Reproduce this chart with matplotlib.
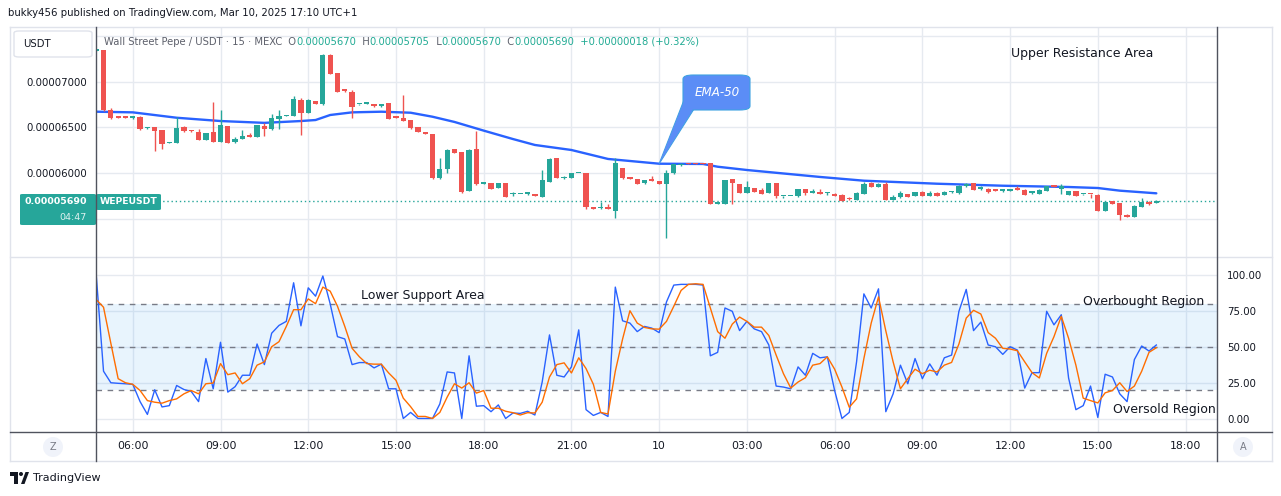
import numpy as np
import matplotlib.pyplot as plt
from matplotlib.patches import FancyBboxPatch, Polygon, Circle, Ellipse
from matplotlib.lines import Line2D

# 15 minute candles, prices in units of 1e-8 USDT, first candle is 04:45 on Mar 9
opens = [7340, 7347, 6691, 6625, 6611, 6606, 6617, 6490, 6501, 6472, 6328, 6333, 6508, 6463, 6450, 6362,
         6450, 6344, 6516, 6337, 6377, 6406, 6398, 6516, 6479, 6595, 6625, 6628, 6800, 6661, 6789, 6753,
         7292, 7095, 6906, 6891, 6752, 6758, 6756, 6731, 6764, 6608, 6600, 6581, 6501, 6440, 6425, 5943,
         6042, 6261, 6231, 5804, 6261, 5886, 5892, 5841, 5892, 5770, 5770, 5772, 5772, 5742, 5906, 6165,
         5943, 5950, 6000, 6001, 5626, 5615, 5633, 5589, 6053, 5958, 5932, 5889, 5936, 5914, 5884, 5998,
         6085, 6107, 6107, 6105, 6107, 5665, 5665, 5932, 5881, 5786, 5837, 5819, 5786, 5892, 5748, 5748,
         5746, 5823, 5783, 5794, 5778, 5772, 5761, 5716, 5709, 5775, 5892, 5852, 5881, 5709, 5739, 5772,
         5750, 5794, 5753, 5779, 5761, 5788, 5783, 5856, 5889, 5830, 5830, 5808, 5806, 5806, 5819, 5819,
         5784, 5775, 5808, 5852, 5830, 5761, 5801, 5767, 5769, 5761, 5586, 5695, 5673, 5539, 5523, 5633,
         5687, 5670]
highs = [7352, 7347, 6709, 6630, 6615, 6625, 6625, 6505, 6505, 6472, 6336, 6614, 6516, 6475, 6486, 6440,
         6778, 6690, 6520, 6398, 6475, 6439, 6525, 6548, 6647, 6690, 6635, 6844, 6818, 6810, 6792, 7300,
         7300, 7100, 6920, 6909, 6760, 6766, 6760, 6760, 6766, 6610, 6855, 6585, 6505, 6447, 6430, 6169,
         6260, 6265, 6235, 6261, 6461, 5895, 5895, 5895, 5895, 5790, 5775, 5795, 5775, 6034, 6165, 6168,
         5972, 6005, 6005, 6003, 5628, 5684, 5662, 6165, 6058, 5962, 5936, 5925, 5972, 5916, 6034, 6105,
         6108, 6110, 6110, 6108, 6110, 5672, 5930, 5936, 5885, 5914, 5840, 5834, 5892, 5895, 5753, 5755,
         5826, 5826, 5823, 5830, 5794, 5783, 5772, 5739, 5790, 5903, 5903, 5892, 5900, 5757, 5801, 5775,
         5792, 5801, 5801, 5790, 5801, 5804, 5873, 5892, 5892, 5856, 5832, 5823, 5823, 5812, 5856, 5822,
         5808, 5823, 5860, 5855, 5881, 5805, 5805, 5772, 5772, 5768, 5692, 5698, 5676, 5550, 5648, 5724,
         5695, 5705]
lows = [7336, 6680, 6592, 6600, 6603, 6595, 6470, 6485, 6245, 6264, 6325, 6330, 6455, 6455, 6362, 6358,
        6340, 6340, 6330, 6335, 6374, 6398, 6395, 6403, 6475, 6486, 6620, 6625, 6417, 6655, 6755, 6750,
        7080, 6885, 6890, 6606, 6748, 6755, 6728, 6728, 6590, 6603, 6570, 6479, 6445, 6428, 5940, 5940,
        6005, 6220, 5785, 5800, 5875, 5884, 5828, 5838, 5740, 5753, 5768, 5764, 5750, 5740, 5900, 5948,
        5940, 5948, 5998, 5611, 5608, 5611, 5608, 5512, 5932, 5932, 5880, 5886, 5915, 5882, 5293, 5995,
        6082, 6097, 6097, 6097, 5660, 5663, 5660, 5665, 5779, 5783, 5795, 5772, 5783, 5724, 5724, 5745,
        5743, 5757, 5780, 5772, 5764, 5750, 5695, 5710, 5705, 5772, 5850, 5850, 5705, 5705, 5731, 5740,
        5748, 5750, 5750, 5750, 5758, 5779, 5775, 5853, 5815, 5815, 5783, 5804, 5794, 5804, 5815, 5758,
        5768, 5772, 5805, 5848, 5768, 5758, 5748, 5765, 5728, 5583, 5583, 5662, 5487, 5517, 5520, 5630,
        5655, 5670]
closes = [7347, 6691, 6606, 6606, 6606, 6611, 6483, 6496, 6464, 6319, 6333, 6494, 6458, 6458, 6362, 6436,
          6344, 6523, 6333, 6373, 6406, 6400, 6523, 6486, 6600, 6625, 6630, 6808, 6654, 6800, 6759, 7292,
          7088, 6891, 6900, 6727, 6756, 6762, 6731, 6756, 6595, 6606, 6574, 6494, 6447, 6431, 5943, 6045,
          6253, 6223, 5790, 6253, 5878, 5889, 5830, 5892, 5742, 5772, 5772, 5776, 5753, 5925, 6151, 5950,
          5946, 6001, 6003, 5626, 5611, 5618, 5611, 6107, 5950, 5936, 5884, 5921, 5917, 5884, 5998, 6100,
          6103, 6100, 6100, 6100, 5665, 5670, 5925, 5895, 5786, 5848, 5797, 5775, 5889, 5753, 5750, 5751,
          5823, 5783, 5786, 5775, 5780, 5753, 5698, 5714, 5779, 5881, 5852, 5884, 5709, 5739, 5779, 5742,
          5790, 5753, 5779, 5753, 5794, 5790, 5859, 5881, 5819, 5832, 5794, 5806, 5808, 5808, 5817, 5761,
          5787, 5815, 5856, 5850, 5856, 5801, 5750, 5769, 5767, 5586, 5684, 5665, 5542, 5520, 5637, 5684,
          5659, 5690]
change_text = '+0.00000018 (+0.32%)'
countdown = '04:47'

# EMA-50 read at some candles (index counted from the 05:00 candle)
ema_idx = [-1, 4, 10, 16, 22, 27, 29, 31, 34, 38, 42, 45, 48, 52, 56, 59, 64, 69, 76, 82, 84, 88, 98,
           104, 114, 123, 132, 136, 139, 144]
ema_vals = [6672, 6665, 6606, 6570, 6550, 6570, 6581, 6636, 6665, 6672, 6661, 6617, 6560, 6465, 6373,
            6308, 6253, 6155, 6103, 6100, 6070, 6034, 5958, 5917, 5884, 5862, 5848, 5837, 5808, 5779]

# stochastic %K and %D, one value per candle
stoch_k = [100, 33.2, 25.2, 24.8, 24.5, 24.1, 12.1, 3.2, 20.3, 8.4, 9.3, 23.3, 20.5, 19.1, 12.1, 42.0,
           21.0, 53.3, 18.7, 22.5, 30.4, 30.4, 52.1, 37.8, 59.6, 65.0, 67.8, 94.6, 64.7, 91.1, 85.3, 99.3,
           80.0, 57.2, 55.6, 37.8, 39.2, 39.2, 35.5, 38.1, 21.0, 21.0, 0.4, 4.6, 0.4, 0.4, 0.4, 10.5,
           32.7, 32.0, 0.4, 43.9, 8.9, 9.3, 5.1, 9.8, 0.4, 4.2, 3.9, 5.4, 2.8, 25.7, 58.4, 30.4,
           29.2, 36.2, 61.9, 6.5, 2.5, 4.6, 1.8, 91.6, 68.2, 66.6, 60.7,
           64.3, 63.1, 60.0, 81.3, 93.0, 93.5, 93.5, 93.5, 93.0, 43.9, 46.3, 77.1, 74.8, 61.4, 67.8, 62.6,
           60.7, 51.4, 22.9, 22.2, 21.0, 36.2, 30.4, 45.6, 42.5, 43.2, 19.8, 0.4, 4.6, 39.7, 86.9, 77.1,
           90.4, 5.1, 17.5, 37.4, 24.5, 42.0, 28.0, 38.3, 30.4, 42.5, 44.4, 74.8, 90.0, 61.4, 67.3, 51.4,
           50.2, 44.9, 50.2, 47.9, 21.5, 32.2, 32.2, 74.8, 65.4, 72.4, 28.5, 6.5, 9.3, 22.9, 1.1, 31.1,
           29.2, 17.5, 12.1, 41.3, 50.7, 47.2, 51.4]
stoch_d = [83.0, 77.6, 52.6, 28.0, 25.2, 24.1, 19.8, 12.8, 11.7, 11.0, 12.8, 14.0, 17.5, 19.8, 17.5, 24.5,
           25.0, 38.5, 30.8, 32.0, 24.5, 28.0, 37.4, 39.7, 50.2, 53.7, 64.3, 75.9, 75.9, 83.4, 80.1, 91.6,
           88.8, 78.3, 64.3, 49.1, 43.2, 38.5, 38.1, 38.1, 32.0, 26.9, 14.5, 8.6, 1.8, 1.8, 0.4, 4.6,
           15.2, 24.5, 21.5, 25.2, 18.0, 19.8, 7.5, 7.5, 5.4, 4.4, 2.8, 4.4, 4.2, 11.7, 29.2, 37.8,
           39.0, 32.0, 42.5, 35.0, 24.1, 4.6, 3.5, 33.2, 55.6, 75.2, 66.6,
           63.6, 62.6, 62.4, 67.8, 78.3, 89.3, 93.5, 93.9, 93.5, 77.1, 60.7, 56.1, 65.9, 70.8, 67.8, 63.8,
           63.8, 58.0, 44.4, 31.5, 21.5, 25.7, 28.7, 37.4, 38.5, 43.2, 34.6, 22.2, 8.2, 14.0, 42.0, 66.6,
           84.8, 61.2, 39.7, 21.0, 28.0, 34.6, 31.5, 33.9, 32.7, 37.4, 39.3, 52.1, 70.1, 75.5, 72.9, 60.0,
           56.1, 49.1, 48.6, 47.4, 39.7, 32.2, 28.5, 45.6, 57.2, 71.3, 56.1, 37.4, 14.5, 12.8, 11.2, 18.2,
           19.8, 25.2, 19.1, 22.9, 33.2, 46.3, 49.5]

tick_hours = [6, 9, 12, 15, 18, 21, 24, 27, 30, 33, 36, 39, 42]
tick_labels = ['06:00', '09:00', '12:00', '15:00', '18:00', '21:00', '10',
               '03:00', '06:00', '09:00', '12:00', '15:00', '18:00']
price_ticks = [5500, 6000, 6500, 7000, 7500]
stoch_ticks = [0, 25, 50, 75, 100]

UP = '#26A69A'
DOWN = '#EF5350'
GRID = '#E6EAF0'
DARK = '#50535E'
TEXT = '#131722'

W, H = 1281, 496


def fx(px):
    return px / W


def fy(py):
    return 1 - py / H


plt.rcParams['font.family'] = ['DejaVu Sans']

fig = plt.figure(figsize=(W / 100, H / 100), dpi=100)
fig.patch.set_facecolor('white')

ax1 = fig.add_axes([fx(96), fy(257), (1217 - 96) / W, (257 - 27) / H])
ax2 = fig.add_axes([fx(96), fy(432), (1217 - 96) / W, (432 - 257) / H])

o = np.array(opens) * 1e-8
h = np.array(highs) * 1e-8
l = np.array(lows) * 1e-8
c = np.array(closes) * 1e-8
x = np.arange(len(opens)) - 1
cols = [UP if cc >= oo else DOWN for oo, cc in zip(o, c)]
ticks_x = [(t - 5) * 4 for t in tick_hours]

# price panel
ax1.set_xlim(-1.03, 152.3)
ax1.set_ylim(5082e-8, 7599e-8)
for t in ticks_x:
    ax1.axvline(t, color=GRID, lw=1, zorder=0)
for p in price_ticks:
    ax1.axhline(p * 1e-8, color=GRID, lw=1, zorder=0)

ax1.axhline(c[-1], color=UP, lw=1, ls=(0, (1, 2)), zorder=1)
ax1.plot(ema_idx, np.array(ema_vals) * 1e-8, color='#2962FF', lw=1.7, zorder=2,
         solid_capstyle='round', solid_joinstyle='round')
ax1.vlines(x, l, h, colors=cols, lw=1, zorder=3)
body = np.maximum(np.abs(c - o), 16e-8)
ax1.bar(x, body, bottom=np.minimum(o, c), width=0.72, color=cols, zorder=4, lw=0)

ax1.set_yticks([p * 1e-8 for p in price_ticks])
ax1.set_yticklabels(['' if p in (5500, 7500) else f'{p * 1e-8:.8f}' for p in price_ticks])
ax1.tick_params(axis='y', length=0, pad=6.5, labelsize=7.3, labelcolor=TEXT)
ax1.set_xticks([])
for s in ax1.spines.values():
    s.set_visible(False)

# stochastic panel
ax2.set_xlim(-1.03, 152.3)
ax2.set_ylim(-9.0, 112.5)
for t in ticks_x:
    ax2.axvline(t, color=GRID, lw=1, zorder=0)
for v in stoch_ticks:
    ax2.axhline(v, color=GRID, lw=1, zorder=0)
ax2.axhspan(20, 80, color='#2196F3', alpha=0.1, lw=0, zorder=0.5)
for v in (80, 50, 20):
    ax2.axhline(v, color='#787B86', lw=1, dashes=(4, 4), zorder=1)
ax2.plot(x, stoch_k, color='#2962FF', lw=1, zorder=3)
ax2.plot(x, stoch_d, color='#FF6D00', lw=1, zorder=4)

ax2.yaxis.tick_right()
ax2.set_yticks(stoch_ticks)
ax2.set_yticklabels([f'{v:.2f}' for v in stoch_ticks])
ax2.tick_params(axis='y', length=0, pad=7.5, labelsize=7.4, labelcolor=TEXT)
ax2.set_xticks(ticks_x)
ax2.set_xticklabels(tick_labels)
ax2.tick_params(axis='x', length=0, pad=6.2, labelsize=7.8, labelcolor=TEXT)
for s in ax2.spines.values():
    s.set_visible(False)


def hline(y, x0, x1, color, lw=1):
    fig.add_artist(Line2D([fx(x0), fx(x1)], [fy(y), fy(y)], color=color, lw=lw,
                          transform=fig.transFigure))


def vline(xp, y0, y1, color, lw=1):
    fig.add_artist(Line2D([fx(xp), fx(xp)], [fy(y0), fy(y1)], color=color, lw=lw,
                          transform=fig.transFigure))


# frame
hline(27, 10, 1272, '#E0E3EB')
hline(257, 10, 1272, '#E0E3EB')
hline(461, 10, 1272, '#E0E3EB')
vline(10, 27, 461, '#E0E3EB')
vline(1272, 27, 461, '#E0E3EB')
hline(432, 10, 1272, DARK)
vline(96, 27, 461, DARK)
vline(1217, 27, 461, DARK)

# header
fig.text(fx(8), fy(13), 'bukky456 published on TradingView.com, Mar 10, 2025 17:10 UTC+1',
         fontsize=7.3, color=TEXT, ha='left', va='center')

# symbol box
fig.add_artist(FancyBboxPatch((fx(14), fy(57)), (92 - 14) / W, (57 - 31) / H,
                              boxstyle='round,pad=0,rounding_size=0.004', transform=fig.transFigure,
                              facecolor='white', edgecolor='#E0E3EB', lw=1))
fig.text(fx(23), fy(44), 'USDT', fontsize=7.3, color=TEXT, ha='left', va='center')

# legend line
renderer = fig.canvas.get_renderer()
vals = [f'{v * 1e-8:.8f}' for v in (opens[-1], highs[-1], lows[-1], closes[-1])]
parts = [('Wall Street Pepe / USDT · 15 · MEXC', '#5D606B'), ('  O', '#5D606B'), (vals[0], '#22AB94'),
         ('  H', '#5D606B'), (vals[1], '#22AB94'), ('  L', '#5D606B'), (vals[2], '#22AB94'),
         ('  C', '#5D606B'), (vals[3], '#22AB94'), ('  ' + change_text, '#22AB94')]
xp = 104
for s, col in parts:
    t = fig.text(fx(xp), fy(42), s, fontsize=7.2, color=col, ha='left', va='center')
    xp += t.get_window_extent(renderer).width

# last price labels
fig.add_artist(FancyBboxPatch((fx(20), fy(225)), 76 / W, 31 / H,
                              boxstyle='round,pad=0,rounding_size=0.002', transform=fig.transFigure,
                              facecolor=UP, edgecolor='none'))
fig.text(fx(87), fy(202), f'{closes[-1] * 1e-8:.8f}', fontsize=6.8, fontweight='bold',
         color='white', ha='right', va='center')
fig.text(fx(87), fy(217), countdown, fontsize=6.8, color='white', alpha=0.85,
         ha='right', va='center')
fig.add_artist(FancyBboxPatch((fx(96), fy(210)), 65 / W, 16 / H,
                              boxstyle='round,pad=0,rounding_size=0.002', transform=fig.transFigure,
                              facecolor=UP, edgecolor='none'))
fig.text(fx(128.5), fy(202), 'WEPEUSDT', fontsize=6.7, fontweight='bold',
         color='white', ha='center', va='center')

# EMA-50 callout
tip = ax1.transData.transform((76, ema_vals[ema_idx.index(76)] * 1e-8))
tip = fig.transFigure.inverted().transform(tip)
fig.add_artist(Polygon([(fx(684), fy(100)), tuple(tip), (fx(694), fy(109))], closed=True,
                       transform=fig.transFigure, facecolor='#5B8DF6', edgecolor='#3FA2E2', lw=0.8))
fig.add_artist(FancyBboxPatch((fx(683), fy(110)), 67 / W, 35 / H,
                              boxstyle='round,pad=0,rounding_size=0.008', transform=fig.transFigure,
                              facecolor='#5B8DF6', edgecolor='#3FA2E2', lw=0.8))
fig.add_artist(Polygon([(fx(684.2), fy(101)), tuple(tip), (fx(693), fy(108.8))], closed=True,
                       transform=fig.transFigure, facecolor='#5B8DF6', edgecolor='none'))
fig.text(fx(717), fy(93), 'EMA-50', fontsize=8.6, style='italic', color='white',
         ha='center', va='center')

# annotations
fig.text(fx(1082), fy(53), 'Upper Resistance Area', fontsize=9, color=TEXT, ha='center', va='center')
fig.text(fx(423), fy(296), 'Lower Support Area', fontsize=9, color=TEXT, ha='center', va='center')
fig.text(fx(1144), fy(301), 'Overbought Region', fontsize=9, color=TEXT, ha='center', va='center')
fig.text(fx(1164), fy(410), 'Oversold Region', fontsize=9, color=TEXT, ha='center', va='center')

# scale buttons
for cx, s in ((53, 'Z'), (1243, 'A')):
    fig.add_artist(Ellipse((fx(cx), fy(447)), 20 / W, 20 / H, transform=fig.transFigure,
                           facecolor='#F0F3FA', edgecolor='none'))
    fig.text(fx(cx), fy(447), s, fontsize=7, color='#787B86', ha='center', va='center')

# footer logo
fig.add_artist(Polygon([(fx(10), fy(472)), (fx(18), fy(472)), (fx(18), fy(484)), (fx(14), fy(484)),
                        (fx(14), fy(476)), (fx(10), fy(476))], closed=True,
                       transform=fig.transFigure, facecolor=TEXT, edgecolor='none'))
fig.add_artist(Ellipse((fx(21), fy(474)), 4 / W, 4 / H, transform=fig.transFigure,
                       facecolor=TEXT, edgecolor='none'))
fig.add_artist(Polygon([(fx(21), fy(484)), (fx(25.5), fy(472)), (fx(29), fy(472)), (fx(24.5), fy(484))],
                       closed=True, transform=fig.transFigure, facecolor=TEXT, edgecolor='none'))
fig.text(fx(33), fy(478), 'TradingView', fontsize=8, color=TEXT, ha='left', va='center')

fig.savefig('out.png', dpi=100)
